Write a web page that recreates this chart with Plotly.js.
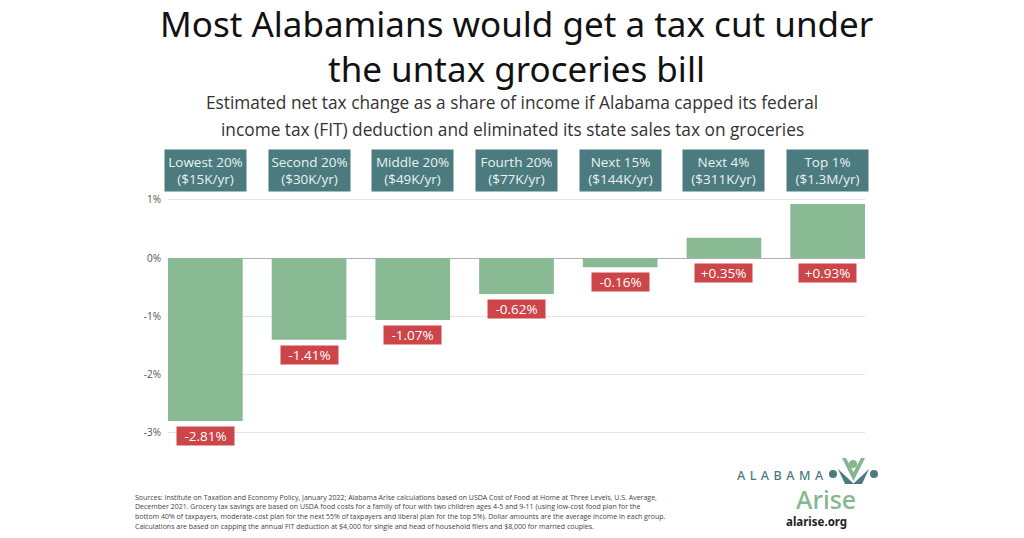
<!DOCTYPE html>
<html>
<head>
<meta charset="utf-8">
<script src="https://cdn.plot.ly/plotly-3.0.1.min.js"></script>
<style>html,body{margin:0;padding:0;background:#fff;}#chart{width:1024px;height:538px;}</style>
</head>
<body>
<div id="chart"></div>
<script>
const categories = ['Lowest 20%','Second 20%','Middle 20%','Fourth 20%','Next 15%','Next 4%','Top 1%'];
const incomes = ['($15K/yr)','($30K/yr)','($49K/yr)','($77K/yr)','($144K/yr)','($311K/yr)','($1.3M/yr)'];
const values = [-2.81,-1.41,-1.07,-0.62,-0.16,0.35,0.93];
const yTickVals = [1,0,-1,-2,-3];
const yTickText = ['1%','0%','-1%','-2%','-3%'];
const titleLines = ['Most Alabamians would get a tax cut under','the untax groceries bill'];
const subtitleLines = ['Estimated net tax change as a share of income if Alabama capped its federal','income tax (FIT) deduction and eliminated its state sales tax on groceries'];
const noteLines = [
 'Sources: Institute on Taxation and Economy Policy, January 2022; Alabama Arise calculations based on USDA Cost of Food at Home at Three Levels, U.S. Average,',
 'December 2021. Grocery tax savings are based on USDA food costs for a family of four with two children ages 4-5 and 9-11 (using low-cost food plan for the',
 'bottom 40% of taxpayers, moderate-cost plan for the next 55% of taxpayers and liberal plan for the top 5%). Dollar amounts are the average income in each group.',
 'Calculations are based on capping the annual FIT deduction at $4,000 for single and head of household filers and $8,000 for married couples.'
];

const W=1024,H=538,ML=168,MR=159,MT=195,MB=88;
const PW=W-ML-MR, PH=H-MT-MB;
const px=x=>(x-ML)/PW, py=y=>(H-MB-y)/PH;

const fmt=v=>(v>0?'+':'')+v.toFixed(2)+'%';
const TEAL='#4b7b7e', GREEN='#8aba93', RED='#cc4549', LOGOGREEN='#84b78e';

const annotations=[];
titleLines.forEach((t,i)=>annotations.push({text:t,xref:'paper',yref:'paper',x:px(516),y:py(24+i*44),xanchor:'center',yanchor:'middle',showarrow:false,font:{family:'Noto Sans',size:35,color:'#111'}}));
subtitleLines.forEach((t,i)=>annotations.push({text:t,xref:'paper',yref:'paper',x:px(512),y:py(103+i*26),xanchor:'center',yanchor:'middle',showarrow:false,font:{family:'Open Sans',size:17.3,color:'#333'}}));
categories.forEach((c,i)=>{
  annotations.push({text:c+'<br>'+incomes[i],xref:'x',yref:'paper',x:c,y:py(171),xanchor:'center',yanchor:'middle',showarrow:false,width:81,height:41,borderpad:0,bgcolor:TEAL,font:{family:'Open Sans',size:13.5,color:'#eaf2f2'}});
  annotations.push({text:fmt(values[i]),xref:'x',yref:'y',x:c,y:Math.min(values[i],0),xanchor:'center',yanchor:'top',yshift:-5,showarrow:false,width:57,height:18,borderpad:0,bgcolor:RED,font:{family:'Open Sans',size:13.5,color:'#ffffff'}});
});
noteLines.forEach((t,i)=>annotations.push({text:t,xref:'paper',yref:'paper',x:px(133),y:py(497+i*9.7),xanchor:'left',yanchor:'middle',showarrow:false,font:{family:'Open Sans',size:7,color:'#444'}}));
const sp='&nbsp;\u200A';
annotations.push({text:['A','L','A','B','A','M','A'].join(sp),xref:'paper',yref:'paper',x:px(780),y:py(475),xanchor:'center',yanchor:'middle',showarrow:false,font:{family:'Noto Sans',size:12.5,weight:500,color:TEAL}});
annotations.push({text:'Arise',xref:'paper',yref:'paper',x:px(825.5),y:py(499),xanchor:'center',yanchor:'middle',showarrow:false,font:{family:'Noto Sans',size:25,weight:500,color:LOGOGREEN}});
annotations.push({text:'<b>alarise.org</b>',xref:'paper',yref:'paper',x:px(816.5),y:py(521),xanchor:'center',yanchor:'middle',showarrow:false,font:{family:'Noto Sans',size:11.5,color:'#222'}});

const P=(pts)=>'M '+pts.map(p=>px(p[0])+','+py(p[1])).join(' L ')+' Z';
const circ=(cx,cy,r,col)=>({type:'circle',xref:'paper',yref:'paper',x0:px(cx-r),x1:px(cx+r),y0:py(cy+r),y1:py(cy-r),fillcolor:col,line:{width:0}});
const shapes=[
  circ(833,474,4,TEAL), circ(874,474,4,TEAL), circ(853,464,4,LOGOGREEN),
  {type:'path',xref:'paper',yref:'paper',path:P([[838,469],[854,484],[845,484]]),fillcolor:TEAL,line:{width:0}},
  {type:'path',xref:'paper',yref:'paper',path:P([[869,469],[853,484],[862,484]]),fillcolor:TEAL,line:{width:0}},
  {type:'path',xref:'paper',yref:'paper',path:P([[842,458],[846,458],[853.5,472],[861,458],[865,458],[853.5,481]]),fillcolor:LOGOGREEN,line:{width:0}}
];

const trace={type:'bar',x:categories,y:values,marker:{color:GREEN,line:{width:0}},hoverinfo:'skip'};
const layout={width:W,height:H,margin:{l:ML,r:MR,t:MT,b:MB,pad:0},paper_bgcolor:'#fff',plot_bgcolor:'#fff',
  showlegend:false,bargap:0.28,
  xaxis:{type:'category',range:[-0.36,6.36],showticklabels:false,showgrid:false,zeroline:false,showline:false,fixedrange:true},
  yaxis:{range:[-3.31,1.086],tickvals:yTickVals,ticktext:yTickText,showgrid:true,gridcolor:'#e4e4e4',gridwidth:1,zeroline:true,zerolinecolor:'#b0b0b0',zerolinewidth:1,tickfont:{family:'Open Sans',size:10,color:'#555'},ticklabelstandoff:6,fixedrange:true},
  annotations:annotations,shapes:shapes};
Plotly.newPlot('chart',[trace],layout,{displayModeBar:false,staticPlot:true});
</script>
</body>
</html>
